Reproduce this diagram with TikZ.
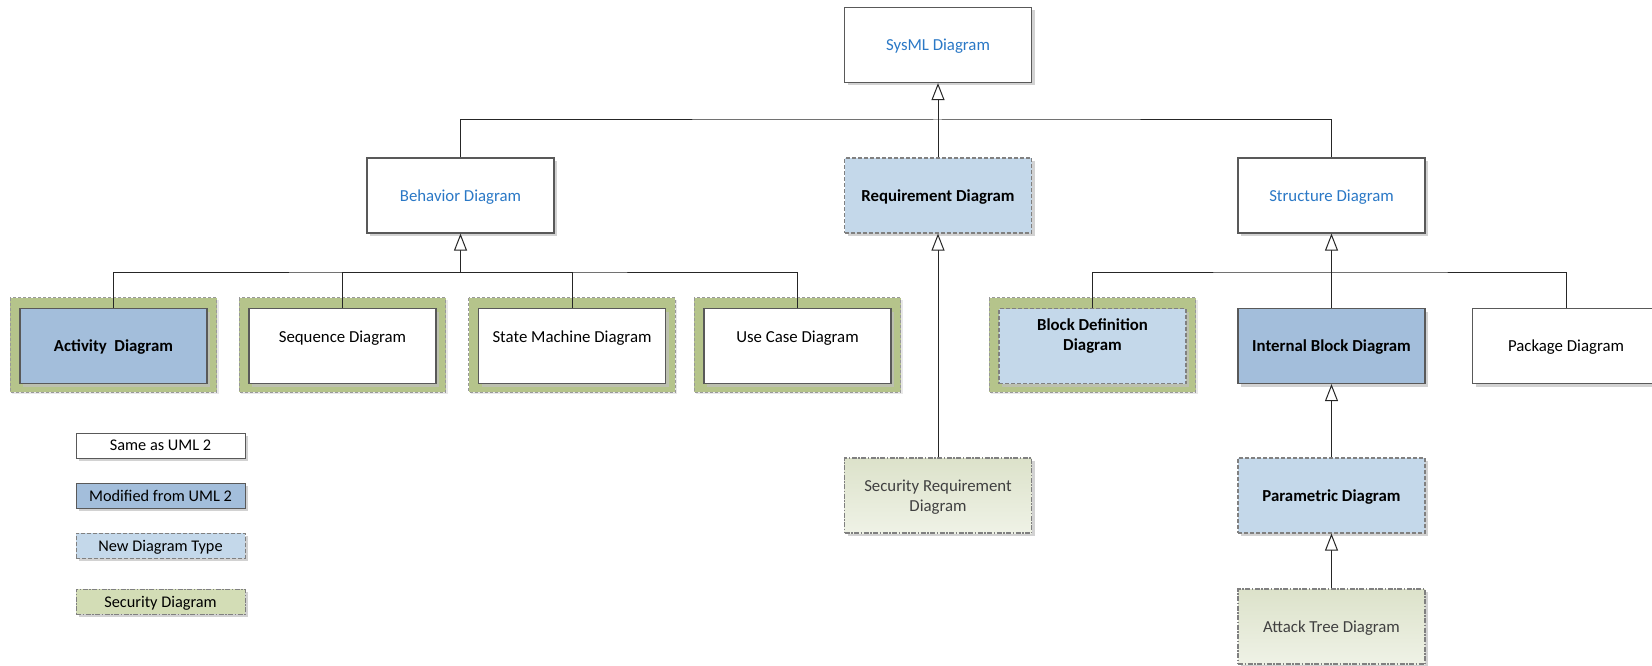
\documentclass[tikz,border=0pt]{standalone}
\usepackage{fontspec}
\setmainfont{Carlito}
\usetikzlibrary{arrows.meta,backgrounds,shadows}
\definecolor{bordergray}{HTML}{595959}
\definecolor{sysblue}{HTML}{2A78C6}
\definecolor{modblue}{HTML}{A3BEDB}
\definecolor{newblue}{HTML}{C4D8EA}
\definecolor{greenframe}{HTML}{B5C48B}
\definecolor{secA}{HTML}{DCE2CA}
\definecolor{secB}{HTML}{EFF2E6}
\definecolor{secleg}{HTML}{D3DDB6}
\definecolor{sectext}{HTML}{404040}
\definecolor{conncol}{HTML}{262626}
\newcommand{\boxfont}{\fontsize{16.8}{20}\selectfont}
\tikzset{
  shad/.style={drop shadow={shadow xshift=3pt,shadow yshift=-3pt,fill=black!25,opacity=.7}},
  box/.style={draw=bordergray,line width=1.2pt,minimum width=187pt,minimum height=75pt,
    inner sep=2pt,align=center,font=\boxfont,text depth=0pt,shad},
  same/.style={box,fill=white},
  bluetxt/.style={text=sysblue},
  modified/.style={box,fill=modblue,font=\boxfont\bfseries},
  newtype/.style={box,fill=newblue,draw=gray,dash pattern=on 4pt off 2pt,font=\boxfont\bfseries},
  sec/.style={box,top color=secA,bottom color=secB,draw=gray,dash pattern=on 5pt off 1.5pt on 1.5pt off 1.5pt,text=sectext},
  uptext/.style={text height=12pt,text depth=20pt},
  secframe/.style={fill=greenframe,draw=gray!80,line width=1pt,dash pattern=on 3pt off 2pt,
    drop shadow={shadow xshift=2pt,shadow yshift=-2pt,fill=black!15,opacity=.6}},
  legbox/.style={minimum width=169pt,minimum height=25pt,inner sep=1pt,font=\fontsize{16.3}{19}\selectfont,text depth=0pt,line width=1pt,shad},
  conn/.style={draw=conncol,line width=1pt},
  gen/.style={conn,-{Triangle[length=17pt,width=13pt,fill=white,line width=1pt]}},
}
\begin{document}
\begin{tikzpicture}[x=1pt,y=-1pt]
\useasboundingbox (0,0) rectangle (1652,666);
% top
\node[same,bluetxt] (sysml) at (938,45) {SysML Diagram};
\node[same,bluetxt] (behavior) at (460.5,195.5) {Behavior Diagram};
\node[newtype] (req) at (938,195.5) {Requirement Diagram};
\node[same,bluetxt] (struct) at (1331.5,195.5) {Structure Diagram};
% second row
\node[modified] (act) at (113.5,346) {Activity\ \ Diagram};
\node[same,uptext] (seq) at (342.5,346) {Sequence Diagram};
\node[same,uptext] (sm) at (572,346) {State Machine Diagram};
\node[same,uptext] (uc) at (797.5,346) {Use Case Diagram};
\node[newtype,text depth=23.4pt] (bdd) at (1092.5,346) {Block Definition\\Diagram};
\node[modified] (ibd) at (1331.5,346) {Internal Block Diagram};
\node[same] (pkg) at (1566,346) {Package Diagram};
% lower
\node[sec] (secreq) at (938,495.5) {Security Requirement\\Diagram};
\node[newtype] (par) at (1331.5,495.5) {Parametric Diagram};
\node[sec] (atk) at (1331.5,626.5) {Attack Tree Diagram};
% legend
\node[legbox,draw=bordergray,fill=white] (leg1) at (160.5,445.5) {Same as UML 2};
\node[legbox,draw=bordergray,fill=modblue] (leg2) at (160.5,495.5) {Modified from UML 2};
\node[legbox,draw=gray,fill=newblue,dash pattern=on 4pt off 2pt] (leg3) at (160.5,545.5) {New Diagram Type};
\node[legbox,draw=gray,fill=secleg,dash pattern=on 5pt off 1.5pt on 1.5pt off 1.5pt] (leg4) at (160.5,601.5) {Security Diagram};
% green security frames
\begin{scope}[on background layer]
\foreach \n in {act,seq,sm,uc,bdd}{
  \draw[secframe] ([xshift=-9pt,yshift=10pt]\n.north west) rectangle ([xshift=9pt,yshift=-8pt]\n.south east);
}
\end{scope}
% connectors
\coordinate (bar1) at (938,120);
\draw[conn] (behavior.north) |- (bar1) -| (struct.north);
\draw[gen] (req.north) -- (sysml.south);
\coordinate (bar2) at (460.5,272);
\draw[conn] (act.north) |- (bar2) -| (uc.north);
\draw[conn] (seq.north) |- (bar2);
\draw[conn] (sm.north) |- (bar2);
\draw[gen] (bar2) -- (behavior.south);
\coordinate (bar3) at (1331.5,272);
\draw[conn] (bdd.north) |- (bar3) -| (pkg.north);
\draw[gen] (ibd.north) -- (struct.south);
\draw[gen] (secreq.north) -- (req.south);
\draw[gen] (par.north) -- (ibd.south);
\draw[gen] (atk.north) -- (par.south);
\end{tikzpicture}
\end{document}
